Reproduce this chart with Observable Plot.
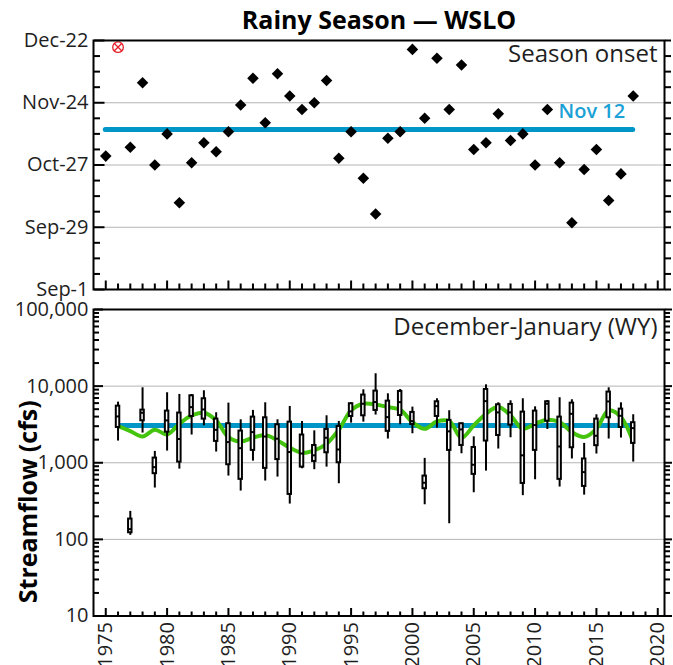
<!DOCTYPE html>
<html><head><meta charset="utf-8">
<script src="https://cdn.jsdelivr.net/npm/d3@7"></script>
<script src="https://cdn.jsdelivr.net/npm/@observablehq/plot@0.6"></script>
<style>
body{margin:0;background:#fff;font-family:"Open Sans",sans-serif;}
#chart svg{display:block;}
</style></head><body><div id="chart"></div>
<script>
// ---- Top panel: season onset (days after Sep 1) ----
const onsetYears = [1975,1977,1978,1979,1980,1981,1982,1983,1984,1985,1986,1987,1988,1989,1990,1991,1992,1993,1994,1995,1996,1997,1998,1999,2000,2001,2002,2003,2004,2005,2006,2007,2008,2009,2010,2011,2012,2013,2014,2015,2016,2017,2018];
const onsetDays  = [60,64,93,56,70,39,57,66,62,71,83,95,75,97,87,81,84,94,59,71,50,34,68,71,108,77,104,81,101,63,66,79,67,70,56,81,57,30,54,63,40,52,87];
const flaggedYears = [1976];
const flaggedDays = [109];
const onsetMedianDay = 72;
const onsetMedianLabel = "Nov 12";
const onsetTickValues = [0,28,56,84,112];
const onsetTickLabels = ["Sep-1","Sep-29","Oct-27","Nov-24","Dec-22"];

// ---- Bottom panel: December-January streamflow (cfs) ----
const flowYears = [1976,1977,1978,1979,1980,1981,1982,1983,1984,1985,1986,1987,1988,1989,1990,1991,1992,1993,1994,1995,1996,1997,1998,1999,2000,2001,2002,2003,2004,2005,2006,2007,2008,2009,2010,2011,2012,2013,2014,2015,2016,2017,2018];
const flowLow  = [1920,113,2440,468,1420,826,2300,3040,1380,670,427,1050,577,650,289,835,811,877,532,3290,3390,4190,2040,3130,2390,283,2830,160,1310,406,778,1510,2120,372,600,2720,482,1120,378,1300,2040,2100,1020];
const flowQ1   = [2890,122,3530,720,2510,1020,4020,3710,1900,942,607,1450,844,1100,386,877,1040,1350,1000,4020,4100,4820,2570,4140,3160,458,4020,1450,1680,705,1920,2270,3100,537,1450,3490,607,1570,491,1670,3860,2890,1790];
const flowMed  = [4020,136,4490,877,3570,2040,5320,4960,2690,1860,1550,2510,2200,2060,1380,1320,1250,2120,1490,4680,5890,6200,3940,6180,3490,548,5480,2570,2720,942,6370,4540,4540,1250,3100,5890,1630,4350,755,2250,6310,4100,2830];
const flowQ3   = [5480,184,4860,1150,4720,4450,7480,6840,3710,3230,2590,3940,3860,3130,3390,2300,1680,2720,2980,5890,7640,8610,6370,8520,4540,670,6250,3570,3230,1580,9050,5710,5770,4580,4720,6250,3940,6000,1120,3710,8360,5010,3330];
const flowHigh = [6180,232,9510,1406,8190,7790,7770,8700,4490,6000,3640,4820,6060,3640,5430,3460,2610,4100,3460,6060,8960,14500,7940,9050,5320,1140,6840,4770,3290,2180,10400,6060,6440,6840,5370,6500,7050,6640,1790,4230,9510,6060,4230];
const flowSmooth = [3006,2588,2203,2692,2344,3228,4140,4487,3565,2163,1897,2118,2296,1954,1570,1349,1449,1770,2692,4819,5888,5768,5321,4909,3388,2773,3459,3491,2118,3070,4355,5321,4140,2773,3228,3640,3388,2512,2163,2773,4819,3945,1862];
const flowMedianAll = 3070;
const flowTickValues = [10,100,1000,10000,100000];

const yearTicks = d3.range(1975, 2021);

// ---- styling ----
const BLUE = "#0096c8", GREEN = "#44c40e", GRID = "#b4b4b4", INK = "#1e1e1e";
const FONT = "Open Sans";
const xDomain = [1974, 2020.55];
const W = 673, ML = 93, MR = 9;
const FW = W - ML - MR;
const yearsMajor = yearTicks.filter(y => y % 5 === 0);
const yearsMinor = yearTicks.filter(y => y % 5 !== 0);
const blank = () => "";

const onset = onsetYears.map((year, i) => ({year, day: onsetDays[i]}));
const flagged = flaggedYears.map((year, i) => ({year, day: flaggedDays[i]}));
const flow = flowYears.map((year, i) => ({year, low: flowLow[i], q1: flowQ1[i], med: flowMed[i], q3: flowQ3[i], high: flowHigh[i], smooth: flowSmooth[i]}));
const allDays = d3.range(0, 113, 7);
const minorDays = allDays.filter(d => !onsetTickValues.includes(d));
const logMinor = flowTickValues.slice(0, -1).flatMap(v => d3.range(2, 10).map(k => k * v));

// Tick marks: axes flipped onto the opposite frame edge so they point inward.
const TK = {stroke: "black", strokeWidth: 2, tickFormat: blank, label: null};
const bottomTicks = (fh, minorLen, majorLen) => [
  Plot.axisX(yearsMinor, {...TK, anchor: "top", dy: fh, tickSize: minorLen}),
  Plot.axisX(yearsMajor, {...TK, anchor: "top", dy: fh, tickSize: majorLen})
];
const leftTicks = (vals, len) => Plot.axisY(vals, {...TK, anchor: "right", dx: -FW, tickSize: len});
const rightTicks = (vals, len) => Plot.axisY(vals, {...TK, anchor: "right", tickSize: len});

const topH = 300, topMT = 40, topMB = 11;
const topFH = topH - topMT - topMB;
const topPlot = Plot.plot({
  width: W, height: topH, marginTop: topMT, marginBottom: topMB, marginLeft: ML, marginRight: MR,
  style: {fontFamily: FONT, color: INK, background: "white", overflow: "visible"},
  x: {domain: xDomain},
  y: {domain: [onsetTickValues[0], onsetTickValues[onsetTickValues.length - 1]]},
  marks: [
    Plot.gridY(onsetTickValues.slice(1, -1), {stroke: GRID, strokeOpacity: 1}),
    Plot.ruleY([onsetMedianDay], {x1: d3.min(onsetYears), x2: d3.max(onsetYears), stroke: BLUE, strokeWidth: 5, strokeLinecap: "round"}),
    Plot.text([onsetMedianLabel], {x: d3.max(onsetYears), y: onsetMedianDay, text: d => d, textAnchor: "end", lineAnchor: "middle", dx: -8, dy: -18, fill: "#1ba1d6", fontSize: 20, fontWeight: 600}),
    Plot.dot(onset, {x: "year", y: "day", symbol: "diamond2", fill: "black", stroke: null, r: 5.2}),
    Plot.dot(flagged, {x: "year", y: "day", symbol: "circle", fill: "none", stroke: "#e8202a", strokeWidth: 1.3, r: 5.3}),
    Plot.dot(flagged, {x: "year", y: "day", symbol: "times", stroke: "#e8202a", strokeWidth: 1.3, r: 3.6}),
    Plot.frame({stroke: "black", strokeWidth: 2}),
    Plot.axisY(onsetTickValues, {anchor: "left", tickSize: 0, tickPadding: 5, fontSize: 20, label: null,
      tickFormat: d => onsetTickLabels[onsetTickValues.indexOf(d)]}),
    leftTicks(minorDays, 6),
    leftTicks(onsetTickValues, 10.5),
    rightTicks(allDays, 6),
    ...bottomTicks(topFH, 6.5, 9.5),
    Plot.text(["Rainy Season — WSLO"], {frameAnchor: "top", text: d => d, textAnchor: "middle", lineAnchor: "middle", dy: -20, fontSize: 25, fontWeight: "bold", fill: "black"}),
    Plot.text(["Season onset"], {frameAnchor: "top-right", text: d => d, textAnchor: "end", lineAnchor: "middle", dx: -7, dy: 14, fontSize: 24})
  ]
});

const botH = 365, botMT = 9, botMB = 49.5;
const botFH = botH - botMT - botMB;
const bottomPlot = Plot.plot({
  width: W, height: botH, marginTop: botMT, marginBottom: botMB, marginLeft: ML, marginRight: MR,
  style: {fontFamily: FONT, color: INK, background: "white", overflow: "visible"},
  x: {domain: xDomain},
  y: {type: "log", domain: [flowTickValues[0], flowTickValues[flowTickValues.length - 1]]},
  marks: [
    Plot.gridY(flowTickValues.slice(1, -1), {stroke: GRID, strokeOpacity: 1}),
    Plot.ruleY([flowMedianAll], {x1: d3.min(flowYears), x2: d3.max(flowYears), stroke: BLUE, strokeWidth: 5, strokeLinecap: "round"}),
    Plot.line(flow, {x: "year", y: "smooth", stroke: GREEN, strokeWidth: 4, curve: "catmull-rom"}),
    Plot.ruleX(flow, {x: "year", y1: "low", y2: "high", stroke: "black", strokeWidth: 2}),
    Plot.rect(flow, {x1: d => d.year - 0.5, x2: d => d.year + 0.5, y1: "q1", y2: "q3", insetLeft: 4.4, insetRight: 4.4, fill: "white", stroke: "black", strokeWidth: 2}),
    Plot.ruleY(flow, {y: "med", x1: d => d.year - 0.5, x2: d => d.year + 0.5, insetLeft: 4.4, insetRight: 4.4, stroke: "black", strokeWidth: 2}),
    Plot.frame({stroke: "black", strokeWidth: 2}),
    Plot.axisY(flowTickValues, {anchor: "left", tickSize: 0, tickPadding: 5, fontSize: 20, label: null, tickFormat: d3.format(",")}),
    leftTicks(logMinor, 5),
    leftTicks(flowTickValues, 9),
    rightTicks(logMinor, 5),
    rightTicks(flowTickValues, 7),
    ...bottomTicks(botFH, 5, 8.5),
    Plot.axisX(yearsMajor, {anchor: "bottom", tickSize: 0, tickPadding: 6, tickRotate: -90, textAnchor: "end", lineAnchor: "middle", fontSize: 20, label: null, tickFormat: d => String(d)}),
    Plot.text(["December-January (WY)"], {frameAnchor: "top-right", text: d => d, textAnchor: "end", lineAnchor: "middle", dx: -7, dy: 18, fontSize: 24}),
    Plot.text(["Streamflow (cfs)"], {frameAnchor: "left", text: d => d, rotate: -90, textAnchor: "middle", lineAnchor: "middle", dx: -65, dy: 39, fontSize: 25, fontWeight: "bold", fill: "black"})
  ]
});

const root = document.getElementById("chart");
root.append(topPlot, bottomPlot);
</script></body></html>
